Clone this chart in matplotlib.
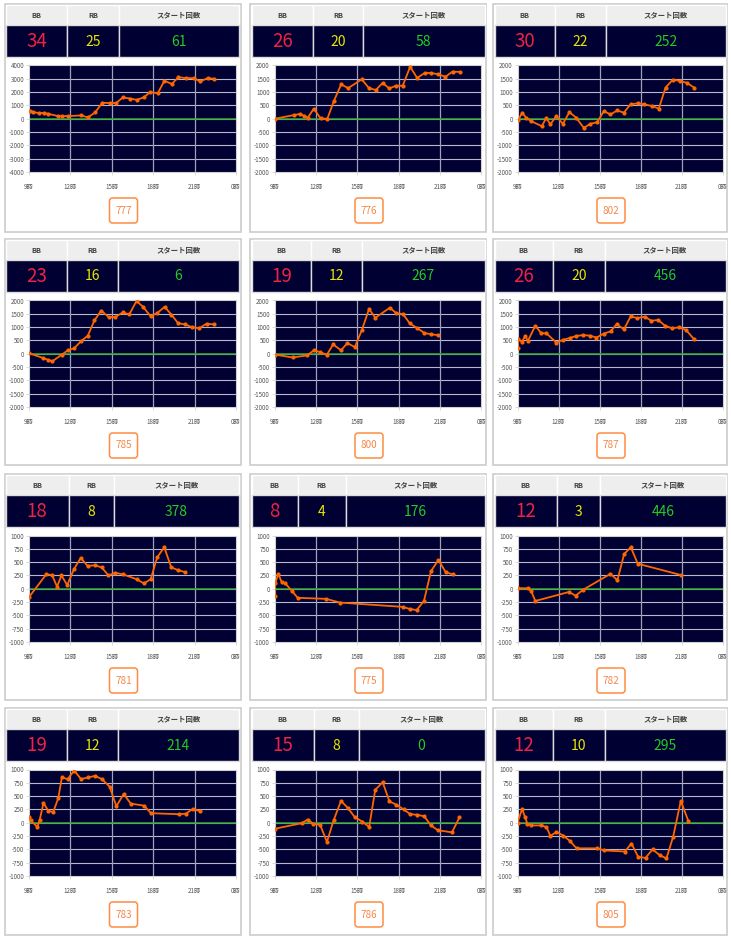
import matplotlib.pyplot as plt
from matplotlib.patches import Rectangle, FancyBboxPatch

plt.rcParams['font.family'] = ['Noto Sans CJK JP', 'DejaVu Sans']
plt.rcParams['axes.unicode_minus'] = False

# data
machine_nos = [777, 776, 802, 785, 800, 787, 781, 775, 782, 783, 786, 805]
bb_counts = [34, 26, 30, 23, 19, 26, 18, 8, 12, 19, 15, 12]
rb_counts = [25, 20, 22, 16, 12, 20, 8, 4, 3, 12, 8, 10]
start_counts = [61, 58, 252, 6, 267, 456, 378, 176, 446, 214, 0, 295]
y_limits = [4000, 2000, 2000, 2000, 2000, 2000, 1000, 1000, 1000, 1000, 1000, 1000]
y_steps = [1000, 500, 500, 500, 500, 500, 250, 250, 250, 250, 250, 250]
header_labels = ['BB', 'RB', 'スタート回数']
hour_ticks = [9, 12, 15, 18, 21, 24]
hour_labels = ['9時', '12時', '15時', '18時', '21時', '0時']

hours_777 = [9.1, 9.29, 9.72, 10.06, 10.37, 11.1, 11.41, 11.82, 12.79, 13.27, 13.8, 14.31, 14.84, 15.32,
             15.8, 16.33, 16.81, 17.3, 17.78, 18.33, 18.81, 19.35, 19.83, 20.38, 20.94, 21.4, 21.95, 22.43]
diff_777 = [600, 500, 430, 430, 380, 200, 200, 200, 250, 100, 480, 1200, 1180, 1180,
            1600, 1520, 1420, 1600, 2000, 1920, 2850, 2620, 3120, 3050, 3050, 2800, 3050, 3000]

hours_776 = [9.02, 10.44, 10.85, 11.17, 11.41, 11.85, 12.34, 12.83, 13.29, 13.83, 14.34, 15.32, 15.85,
             16.34, 16.83, 17.32, 17.8, 18.29, 18.83, 19.34, 19.88, 20.37, 20.85, 21.39, 21.9, 22.44]
diff_776 = [0, 140, 180, 100, 40, 380, 10, 0, 650, 1290, 1150, 1480, 1150,
            1080, 1340, 1140, 1240, 1240, 1950, 1530, 1720, 1720, 1670, 1580, 1770, 1760]

hours_802 = [9.05, 9.34, 9.63, 10.0, 10.78, 11.1, 11.41, 11.83, 12.32, 12.8, 13.29, 13.85, 14.34, 14.83,
             15.32, 15.8, 16.29, 16.78, 17.27, 17.8, 18.29, 18.83, 19.34, 19.83, 20.37, 20.86, 21.39, 21.93]
diff_802 = [-60, 230, 40, -90, -280, 30, -210, 100, -190, 250, 40, -340, -190, -130,
            290, 160, 310, 230, 540, 580, 540, 480, 380, 1170, 1470, 1420, 1350, 1170]

hours_785 = [9.0, 10.02, 10.39, 10.7, 11.36, 11.85, 12.26, 12.77, 13.26, 13.74, 14.23, 14.77, 15.25, 15.79,
             16.27, 16.79, 17.27, 17.81, 18.29, 18.83, 19.32, 19.8, 20.31, 20.8, 21.34, 21.87, 22.39]
diff_785 = [20, -160, -230, -280, -40, 140, 200, 470, 680, 1250, 1620, 1380, 1380, 1550,
            1480, 1980, 1760, 1410, 1530, 1760, 1470, 1150, 1100, 1000, 960, 1130, 1100]

hours_800 = [9.0, 10.32, 11.37, 11.86, 12.33, 12.79, 13.25, 13.82, 14.28, 14.82, 15.33, 15.85, 16.31,
             17.36, 17.83, 18.32, 18.8, 19.32, 19.86, 20.34, 20.88]
diff_800 = [-30, -140, -60, 130, 60, -40, 350, 130, 400, 250, 890, 1680, 1350,
            1730, 1520, 1490, 1140, 970, 780, 730, 700]

hours_787 = [9.0, 9.07, 9.32, 9.56, 9.76, 10.3, 10.74, 11.11, 11.84, 12.33, 12.82, 13.31, 13.8, 14.29, 14.78,
             15.32, 15.81, 16.25, 16.79, 17.28, 17.77, 18.31, 18.8, 19.29, 19.8, 20.29, 20.83, 21.32, 21.93]
diff_787 = [230, 570, 440, 670, 480, 1050, 770, 770, 420, 520, 590, 670, 700, 680, 610,
            760, 840, 1110, 920, 1400, 1340, 1390, 1240, 1270, 1050, 960, 990, 900, 540]

hours_781 = [9.02, 10.25, 10.67, 11.03, 11.35, 11.77, 12.26, 12.75, 13.24, 13.78, 14.27, 14.76, 15.25,
             15.81, 16.79, 17.33, 17.82, 18.29, 18.8, 19.31, 19.8, 20.34]
diff_781 = [-150, 270, 260, 40, 250, 70, 370, 580, 430, 440, 400, 250, 300,
            270, 180, 100, 180, 590, 780, 400, 350, 310]

hours_775 = [9.0, 9.05, 9.27, 9.51, 9.78, 10.26, 10.68, 12.74, 13.76, 18.28, 18.81, 19.3, 19.83,
             20.34, 20.88, 21.41, 21.92]
diff_775 = [-140, 100, 280, 130, 100, -40, -170, -190, -260, -340, -380, -400, -230,
            330, 540, 310, 270]

hours_782 = [9.0, 9.76, 10.0, 10.3, 12.77, 13.25, 13.79, 15.8, 16.31, 16.8, 17.29, 17.8, 20.93]
diff_782 = [10, 10, -40, -230, -60, -130, -20, 280, 160, 650, 780, 470, 260]

hours_783 = [9.0, 9.12, 9.61, 9.78, 10.05, 10.39, 10.75, 11.12, 11.38, 11.8, 12.28, 12.77, 13.26,
             13.79, 14.28, 14.84, 15.33, 15.86, 16.37, 17.35, 17.83, 19.87, 20.36, 20.87, 21.36]
diff_783 = [110, 45, -80, 60, 370, 230, 200, 460, 850, 820, 980, 820, 850,
            880, 820, 680, 310, 540, 360, 320, 180, 160, 170, 260, 220]

hours_786 = [9.07, 10.96, 11.4, 11.82, 12.31, 12.8, 13.29, 13.82, 14.31, 14.8, 15.37, 15.86, 16.3, 16.84,
             17.33, 17.82, 18.36, 18.84, 19.36, 19.85, 20.34, 20.83, 21.86, 22.4]
diff_786 = [-110, -10, 60, -20, -40, -360, 50, 410, 280, 110, 20, -80, 620, 760,
            400, 340, 250, 160, 150, 120, -50, -140, -180, 100]

hours_805 = [9.0, 9.34, 9.54, 9.73, 10.02, 10.71, 11.12, 11.41, 11.85, 12.34, 12.83, 13.32, 14.85, 15.34,
             16.85, 17.34, 17.83, 18.37, 18.88, 19.41, 19.9, 20.39, 20.95, 21.49]
diff_805 = [0, 260, 110, -20, -50, -50, -80, -250, -170, -240, -340, -480, -480, -520,
            -540, -390, -640, -660, -500, -610, -670, -260, 410, 40]

hours_all = [hours_777, hours_776, hours_802, hours_785, hours_800, hours_787,
             hours_781, hours_775, hours_782, hours_783, hours_786, hours_805]
diffs_all = [diff_777, diff_776, diff_802, diff_785, diff_800, diff_787,
             diff_781, diff_775, diff_782, diff_783, diff_786, diff_805]

# layout in pixels
W, H = 731, 938
col_x = [4.5, 250, 493]
col_w = [236, 236, 234]
row_y = [4, 239, 474, 708]
row_h = [228, 226, 226, 227]
dividers = [(62.6, 114.6), (63, 113), (62, 113.3), (62, 113.6), (61.3, 112), (60, 111.6),
            (64, 109), (47.7, 96), (64, 107.3), (62.3, 113.3), (63.6, 108.6), (60, 111.7)]

NAVY = '#000033'

fig = plt.figure(figsize=(W / 100, H / 100), dpi=100)
bg = fig.add_axes([0, 0, 1, 1])
bg.set_xlim(0, W)
bg.set_ylim(H, 0)
bg.axis('off')

for i in range(12):
    r, c = divmod(i, 3)
    x0, y0, pw, ph = col_x[c], row_y[r], col_w[c], row_h[r]

    # outer frame
    bg.add_patch(Rectangle((x0, y0), pw, ph, facecolor='white', edgecolor='#cccccc', lw=1.2))

    # header + value rows
    tl, tr = x0 + 1.5, x0 + pw - 1.5
    d1, d2 = x0 + dividers[i][0], x0 + dividers[i][1]
    edges = [tl, d1, d2, tr]
    for k in range(3):
        bg.add_patch(Rectangle((edges[k], y0 + 1), edges[k + 1] - edges[k], 20,
                               facecolor='#eeeeee', edgecolor='white', lw=1))
        bg.add_patch(Rectangle((edges[k], y0 + 21), edges[k + 1] - edges[k], 32,
                               facecolor=NAVY, edgecolor='#dddddd', lw=1))
        bg.text((edges[k] + edges[k + 1]) / 2, y0 + 11.5, header_labels[k], ha='center', va='center',
                fontsize=5.3, fontweight='bold', color='#444444')
    bg.text((tl + d1) / 2, y0 + 37.5, str(bb_counts[i]), ha='center', va='center',
            fontsize=13.5, color='#ee2244')
    bg.text((d1 + d2) / 2, y0 + 37.5, str(rb_counts[i]), ha='center', va='center',
            fontsize=10, color='#e8e800')
    bg.text((d2 + tr) / 2, y0 + 37.5, str(start_counts[i]), ha='center', va='center',
            fontsize=10, color='#22cc22')

    # machine number box
    cx = x0 + pw / 2 + 1
    bg.add_patch(FancyBboxPatch((cx - 14, y0 + 194), 28, 25,
                                boxstyle='round,pad=0,rounding_size=3',
                                facecolor='white', edgecolor='#ff8c40', lw=1.1))
    bg.text(cx, y0 + 206.5, str(machine_nos[i]), ha='center', va='center',
            fontsize=7.2, color='#f5874a')

    # chart
    ax_l, ax_r = x0 + 24.5, x0 + pw - 4.5
    ax_t, ax_b = y0 + 61.5, y0 + 168
    ax = fig.add_axes([ax_l / W, 1 - ax_b / H, (ax_r - ax_l) / W, (ax_b - ax_t) / H])
    ax.set_facecolor(NAVY)
    lim, step = y_limits[i], y_steps[i]
    ax.set_ylim(-lim, lim)
    ax.set_yticks(range(-lim, lim + 1, step))
    ax.set_xlim(9, 24)
    ax.set_xticks(hour_ticks)
    ax.set_xticklabels(hour_labels)
    for yv in range(-lim + step, lim, step):
        ax.axhline(yv, color='#b8b8cc', lw=0.8, zorder=1)
    for hv in hour_ticks[1:-1]:
        ax.axvline(hv, color='#a0a0b8', lw=0.9, zorder=1)
    ax.axhline(0, color='#33aa33', lw=1.1, zorder=2)
    ax.plot(hours_all[i], diffs_all[i], color='#ff6600', lw=1.3, marker='o', ms=2.0, zorder=3)
    for s in ax.spines.values():
        s.set_color('#d0d0d0')
        s.set_linewidth(0.8)
    ax.tick_params(axis='both', length=2, width=0.5, color='#cccccc',
                   labelsize=4.5, labelcolor='#555555')
    ax.tick_params(axis='y', pad=1.5)
    ax.tick_params(axis='x', pad=6)

fig.savefig('out.png', dpi=100)
